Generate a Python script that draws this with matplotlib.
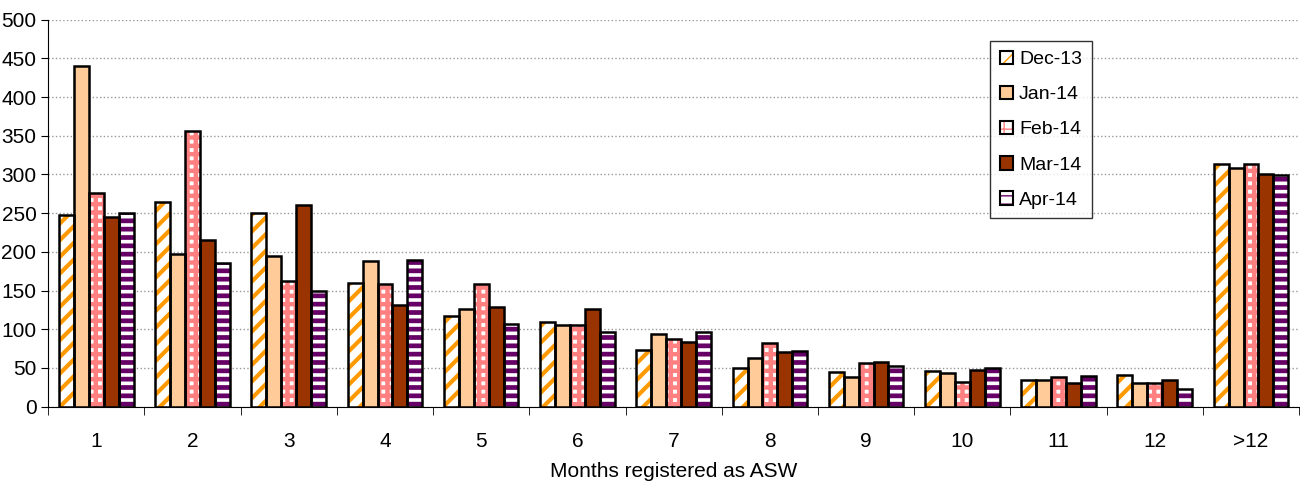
import matplotlib
matplotlib.use("Agg")
import matplotlib.pyplot as plt
import numpy as np
from matplotlib.patches import Patch

plt.rcParams['font.family'] = ['Liberation Sans', 'DejaVu Sans']

categories = ["1","2","3","4","5","6","7","8","9","10","11","12",">12"]
series_names = ["Dec-13","Jan-14","Feb-14","Mar-14","Apr-14"]
dec13 = [247,264,250,160,117,109,73,50,45,46,35,41,314]
jan14 = [440,197,195,188,126,105,94,63,38,43,35,31,308]
feb14 = [276,356,162,158,158,106,87,82,57,32,39,30,314]
mar14 = [245,215,260,131,129,126,83,71,58,48,31,34,301]
apr14 = [250,185,149,190,107,96,96,72,53,50,40,23,299]
data = [dec13, jan14, feb14, mar14, apr14]

styles = [
    dict(facecolor="white", hatch_color="#FF9900", hatch="//", hlw=3.0),
    dict(facecolor="#FFCC99", hatch_color=None, hatch=None, hlw=1),
    dict(facecolor="white", hatch_color="#FF8080", hatch="++", hlw=3.2),
    dict(facecolor="#993300", hatch_color=None, hatch=None, hlw=1),
    dict(facecolor="white", hatch_color="#660066", hatch="--", hlw=3.4),
]

fig = plt.figure(figsize=(13.03, 4.9), dpi=100)
ax = fig.add_axes([0.037, 0.17, 0.96, 0.79])
x = np.arange(len(categories))
w = 0.155
for i, (vals, st) in enumerate(zip(data, styles)):
    pos = x + (i - 2) * w
    if st["hatch"]:
        bars = ax.bar(pos, vals, w, facecolor=st["facecolor"], edgecolor=st["hatch_color"],
                      hatch=st["hatch"], linewidth=0, zorder=2)
        for b in bars:
            b.set_hatch_linewidth(st["hlw"])
    else:
        ax.bar(pos, vals, w, facecolor=st["facecolor"], linewidth=0, zorder=2)
    ax.bar(pos, vals, w, fill=False, edgecolor="black", linewidth=1.8, zorder=3)

handles = []
for st, name in zip(styles, series_names):
    if st["hatch"]:
        p = Patch(facecolor=st["facecolor"], edgecolor=st["hatch_color"], hatch=st["hatch"],
                  linewidth=0, label=name)
        p.set_hatch_linewidth(st["hlw"])
        frame = Patch(fill=False, edgecolor="black", linewidth=1.5)
        handles.append((p, frame))
    else:
        handles.append(Patch(facecolor=st["facecolor"], edgecolor="black", linewidth=1.5))
leg = ax.legend(handles=handles, labels=series_names, loc="upper left",
                bbox_to_anchor=(0.745, 0.97),
                fontsize=14, frameon=True, fancybox=False, edgecolor="black",
                handlelength=0.7, handleheight=0.7, handletextpad=0.3, labelspacing=0.9,
                borderpad=0.5)
leg.get_frame().set_linewidth(1.0)

ax.set_xlim(-0.5, len(categories) - 0.5)
ax.set_ylim(0, 500)
ax.set_yticks(range(0, 501, 50))
ax.set_xticks(x)
ax.set_xticklabels(categories)
ax.set_xticks(np.arange(-0.5, len(categories), 1), minor=True)
ax.tick_params(axis="x", which="major", length=0, labelsize=15, pad=18)
ax.tick_params(axis="x", which="minor", length=6, direction="out")
ax.tick_params(axis="y", labelsize=15, length=5)
ax.yaxis.grid(True, color="#999999", linestyle=":", linewidth=1)
ax.set_axisbelow(True)
for s in ["top", "right"]:
    ax.spines[s].set_visible(False)
ax.set_xlabel("Months registered as ASW", fontsize=15, labelpad=8)
fig.savefig("out.png", dpi=100)
